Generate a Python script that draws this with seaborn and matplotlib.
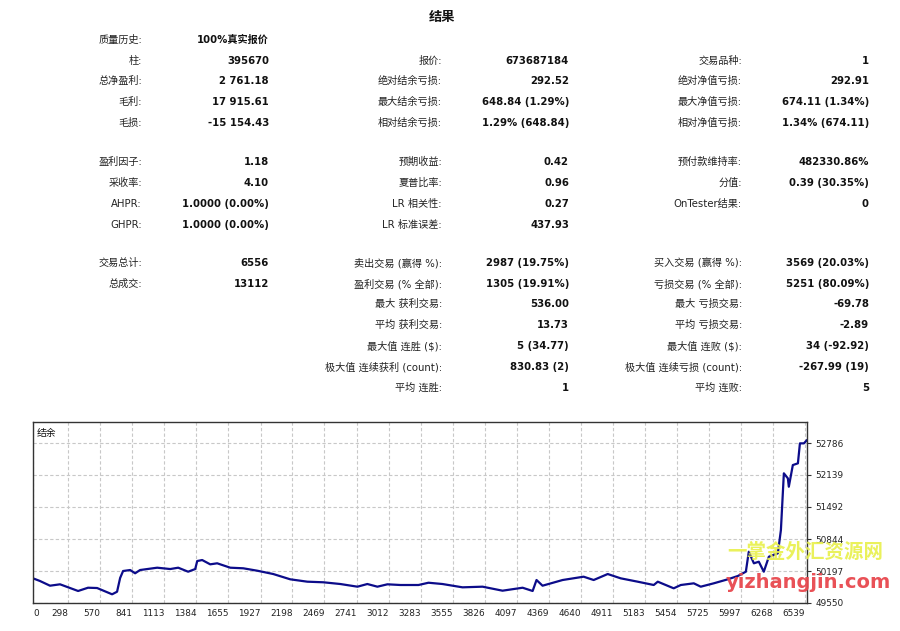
import matplotlib
matplotlib.use('Agg')
import matplotlib.pyplot as plt
import seaborn as sns
import pandas as pd

# Report table: one list of labels and one list of values per column ('' = empty cell)
col1_labels = ['质量历史:', '柱:', '总净盈利:', '毛利:', '毛损:', '',
               '盈利因子:', '采收率:', 'AHPR:', 'GHPR:', '',
               '交易总计:', '总成交:']
col1_values = ['100%真实报价', '395670', '2 761.18', '17 915.61', '-15 154.43', '',
               '1.18', '4.10', '1.0000 (0.00%)', '1.0000 (0.00%)', '',
               '6556', '13112']

col2_labels = ['', '报价:', '绝对结余亏损:', '最大结余亏损:', '相对结余亏损:', '',
               '预期收益:', '夏普比率:', 'LR 相关性:', 'LR 标准误差:', '',
               '卖出交易 (赢得 %):', '盈利交易 (% 全部):', '最大 获利交易:', '平均 获利交易:',
               '最大值 连胜 ($):', '极大值 连续获利 (count):', '平均 连胜:']
col2_values = ['', '673687184', '292.52', '648.84 (1.29%)', '1.29% (648.84)', '',
               '0.42', '0.96', '0.27', '437.93', '',
               '2987 (19.75%)', '1305 (19.91%)', '536.00', '13.73',
               '5 (34.77)', '830.83 (2)', '1']

col3_labels = ['', '交易品种:', '绝对净值亏损:', '最大净值亏损:', '相对净值亏损:', '',
               '预付款维持率:', '分值:', 'OnTester结果:', '', '',
               '买入交易 (赢得 %):', '亏损交易 (% 全部):', '最大 亏损交易:', '平均 亏损交易:',
               '最大值 连败 ($):', '极大值 连续亏损 (count):', '平均 连败:']
col3_values = ['', '1', '292.91', '674.11 (1.34%)', '1.34% (674.11)', '',
               '482330.86%', '0.39 (30.35%)', '0', '', '',
               '3569 (20.03%)', '5251 (80.09%)', '-69.78', '-2.89',
               '34 (-92.92)', '-267.99 (19)', '5']

# Balance curve (trade number, balance)
trades = [0, 59, 144, 229, 382, 466, 543, 670, 712, 738, 763, 823, 865, 907,
          1052, 1162, 1230, 1314, 1374, 1391, 1433, 1501, 1560, 1671, 1781,
          1900, 2035, 2179, 2324, 2459, 2603, 2748, 2832, 2917, 3002, 3112,
          3265, 3350, 3468, 3638, 3808, 3977, 4147, 4232, 4265, 4316, 4486,
          4664, 4749, 4868, 4978, 5122, 5258, 5292, 5427, 5487, 5597, 5656,
          5766, 5885, 5970, 6038, 6063, 6106, 6148, 6190, 6233, 6309, 6335,
          6360, 6394, 6402, 6436, 6479, 6496, 6530, 6556]
balance = [50049, 49995, 49900, 49928, 49793, 49859, 49853, 49726, 49778, 50056,
           50197, 50217, 50151, 50217, 50264, 50237, 50264, 50183, 50237, 50399,
           50419, 50332, 50353, 50264, 50252, 50203, 50136, 50029, 49981, 49969,
           49934, 49880, 49934, 49880, 49928, 49914, 49914, 49960, 49934, 49867,
           49880, 49799, 49859, 49793, 50015, 49900, 50015, 50082, 50015, 50136,
           50049, 49981, 49914, 49981, 49847, 49914, 49948, 49880, 49948, 50029,
           50096, 50183, 50587, 50353, 50385, 50183, 50486, 50555, 51026, 52173,
           52071, 51902, 52340, 52375, 52779, 52779, 52846]

x_ticks = [0, 298, 570, 841, 1113, 1384, 1655, 1927, 2198, 2469, 2741, 3012, 3283,
           3555, 3826, 4097, 4369, 4640, 4911, 5183, 5454, 5725, 5997, 6268, 6539]
y_ticks = [49550, 50197, 50844, 51492, 52139, 52786]

sns.set_style('white')
plt.rcParams['font.family'] = ['DejaVu Sans', 'Noto Sans CJK SC']

W, H = 900, 631
fig = plt.figure(figsize=(9, 6.31), dpi=100)


def px(x, y):
    return x / W, 1 - y / H


# title
fig.text(*px(442, 18), '结果', ha='center', va='center', fontsize=9.5,
         fontweight='bold', color='#111')

# report rows
row_y = [40, 61, 81, 102, 123, 143, 162, 183, 204, 225, 244, 263, 284, 304, 325, 346, 367, 388]
columns = [(col1_labels, col1_values, 142, 269),
           (col2_labels, col2_values, 442, 569),
           (col3_labels, col3_values, 742, 869)]
for labels, values, lx, vx in columns:
    for i, (lab, val) in enumerate(zip(labels, values)):
        if lab:
            fig.text(*px(lx, row_y[i]), lab, ha='right', va='center',
                     fontsize=7.3, color='#222')
        if val:
            fig.text(*px(vx, row_y[i]), val, ha='right', va='center',
                     fontsize=7.3, fontweight='bold', color='#111')

# balance graph
ax = fig.add_axes([33 / W, 1 - 603 / H, (807 - 33) / W, (603 - 422) / H])
df = pd.DataFrame({'trade': trades, 'balance': balance})
sns.lineplot(data=df, x='trade', y='balance', ax=ax, color='#0c0c8a',
             linewidth=1.6, estimator=None)
ax.set_xlim(0, 6556)
ax.set_ylim(49550, 53211)
ax.set_xticks(x_ticks)
ax.set_xticklabels([str(t) for t in x_ticks], fontsize=6.4, color='#222')
for i, lbl in enumerate(ax.get_xticklabels()):
    lbl.set_horizontalalignment('left' if i == 0 else 'right')
ax.set_yticks(y_ticks)
ax.set_yticklabels([str(t) for t in y_ticks], fontsize=6.4, color='#222')
ax.yaxis.tick_right()
ax.tick_params(axis='y', length=3, pad=3, color='#333')
ax.tick_params(axis='x', length=0, pad=4)
ax.set_xlabel('')
ax.set_ylabel('')
ax.grid(True, color='#c8c8c8', linestyle=(0, (3, 2)), linewidth=0.8)
for s in ax.spines.values():
    s.set_color('#333')
    s.set_linewidth(1)
ax.text(0.005, 0.94, '结余', transform=ax.transAxes, ha='left', va='center',
        fontsize=7, color='#111')

# watermark in the picture
fig.text(*px(805, 552), '一掌金外汇资源网', ha='center', va='center', fontsize=14,
         fontweight='bold', color='#e8f04a', alpha=0.9)
fig.text(*px(808, 582), 'yizhangjin.com', ha='center', va='center', fontsize=14,
         fontweight='bold', color='#e8484e', alpha=0.95)

fig.savefig('out.png', dpi=100, facecolor='white')
